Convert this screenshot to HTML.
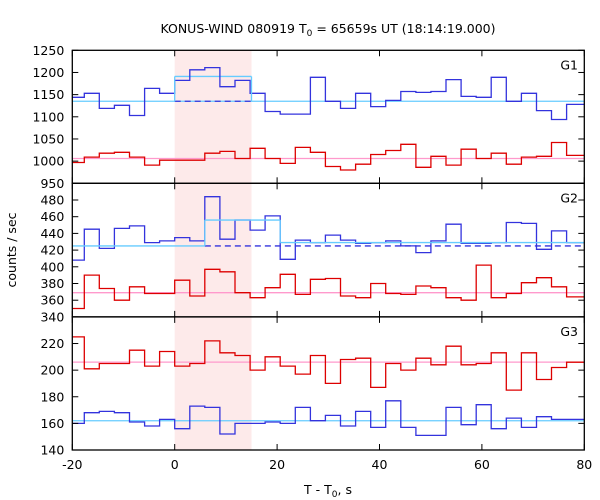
<!DOCTYPE html>
<html><head><meta charset="utf-8"><style>
body{margin:0;background:#fff;}
svg{display:block;font-family:"DejaVu Sans","Liberation Sans",sans-serif;}
</style></head><body>
<svg id="chart" width="600" height="500" xmlns="http://www.w3.org/2000/svg">
<text x="328" y="33" font-size="12.5" text-anchor="middle">KONUS-WIND 080919 T<tspan font-size="9" dy="3">0</tspan><tspan dy="-3"> = 65659s UT (18:14:19.000)</tspan></text>
<text transform="translate(16,250) rotate(-90)" font-size="12.5" text-anchor="middle">counts / sec</text>
<text x="328" y="494" font-size="12.5" text-anchor="middle">T - T<tspan font-size="9" dy="3">0</tspan><tspan dy="-3">, s</tspan></text>
</svg>
<script>
const binWidth = 2.944;
const xTicks = [-20, 0, 20, 40, 60, 80];
const g1Blue = [1144,1153,1119,1126,1103,1164,1153,1182,1206,1211,1168,1182,1153,1112,1106,1106,1189,1135,1119,1153,1123,1137,1157,1155,1157,1184,1146,1144,1189,1135,1153,1114,1094,1128];
const g1Red = [997,1009,1018,1020,1009,991,1002,1002,1002,1018,1022,1006,1029,1006,995,1031,1020,988,980,993,1015,1024,1038,986,1011,991,1027,1006,1018,993,1009,1011,1042,1013];
const g2Blue = [408,445,422,446,449,429,431,435,431,484,433,456,444,461,409,432,429,438,432,428,429,431,425,417,431,451,428,428,429,453,452,421,443,429];
const g2Red = [350,390,374,360,376,368,368,384,365,397,394,369,363,375,391,367,385,386,365,363,380,368,367,377,375,363,360,402,363,368,381,387,376,364];
const g3Red = [225,201,205,205,215,203,214,203,205,222,213,211,200,210,203,197,211,190,208,209,187,205,200,209,204,218,204,205,213,185,213,193,202,206];
const g3Blue = [160,168,169,168,161,158,163,156,173,172,152,160,160,161,160,172,162,166,158,169,157,177,157,151,151,172,159,174,156,164,157,165,163,163];
const g1BgLevel = [1135], g1PeakLevel = [1191], g1RedLevel = [1006];
const g2BgLevel = [425], g2Mid = [456], g2After = [429], g2RedLevel = [369];
const g3RedLevel = [206], g3BlueLevel = [162];
const g1Ticks = [950,1000,1050,1100,1150,1200,1250];
const g2Ticks = [340,360,380,400,420,440,460,480];
const g3Ticks = [140,160,180,200,220];
const shade = [0, 15];

const svg = document.getElementById('chart');
const NS = 'http://www.w3.org/2000/svg';
const X0 = 72.3, X1 = 584.3;
const xs = t => X0 + (t + 20) / 100 * (X1 - X0);
const panels = [
  {top:50.3, bot:183.3, min:950, max:1250, ticks:g1Ticks, name:'G1'},
  {top:183.3, bot:316.9, min:340, max:500, ticks:g2Ticks, name:'G2'},
  {top:316.9, bot:450, min:140, max:240, ticks:g3Ticks, name:'G3'}
];
panels.forEach(p => p.y = v => p.bot - (v - p.min) / (p.max - p.min) * (p.bot - p.top));

function mk(tag, attrs){const e=document.createElementNS(NS,tag);for(const k in attrs)e.setAttribute(k,attrs[k]);svg.appendChild(e);return e;}

const sh = mk('rect',{x:xs(shade[0]),y:50.3,width:xs(shade[1])-xs(shade[0]),height:450-50.3,fill:'#fdeaea'});



function stepPath(vals, p){
  let d='';
  vals.forEach((v,i)=>{
    let a=(i-7)*binWidth, b=(i-6)*binWidth;
    if(a<-20)a=-20; if(i===vals.length-1)b=80; if(b>80)b=80;
    const y=p.y(v).toFixed(1);
    d += (i===0?'M':'L')+xs(a).toFixed(1)+','+y+'L'+xs(b).toFixed(1)+','+y;
  });
  return d;
}
function series(vals,p,color,name){
  const e=mk('path',{d:stepPath(vals,p),fill:'none',stroke:color,'stroke-width':1.3});
  
  
}
function hline(v,t0,t1,p,color,name,dash){
  const e=mk('line',{x1:xs(t0),x2:xs(t1),y1:p.y(v),y2:p.y(v),stroke:color,'stroke-width':1.3});
  if(dash)e.setAttribute('stroke-dasharray','6,4');
  
  
}
const BLUE='#3333dd', RED='#dd0000', CYAN='#66ccff', PINK='#ff99cc';
const [P1,P2,P3]=panels;
hline(g1BgLevel[0],-20,80,P1,CYAN,'g1-background-fit');
hline(g1PeakLevel[0],0,15,P1,CYAN,'g1-burst-level');
hline(g1RedLevel[0],-20,80,P1,PINK,'g1-red-background');
series(g1Blue,P1,BLUE,'g1-blue-series');
series(g1Red,P1,RED,'g1-red-series');
hline(g1BgLevel[0],0,15,P1,BLUE,'g1-dashed-background',true);
[0,15].forEach(t=>{const e=mk('line',{x1:xs(t),x2:xs(t),y1:P1.y(g1BgLevel[0]),y2:P1.y(g1PeakLevel[0]),stroke:CYAN,'stroke-width':1.3});

});

hline(g2RedLevel[0],-20,80,P2,PINK,'g2-red-background');
series(g2Blue,P2,BLUE,'g2-blue-series');
series(g2Red,P2,RED,'g2-red-series');
const tA=2*binWidth, tB=7*binWidth;
hline(g2BgLevel[0],-20,tA,P2,CYAN,'g2-pre-level');
hline(g2Mid[0],tA,tB,P2,CYAN,'g2-burst-level');
hline(g2After[0],tB,80,P2,CYAN,'g2-after-level');
hline(g2BgLevel[0],tA,80,P2,BLUE,'g2-dashed-background',true);
[[tA,g2BgLevel[0],g2Mid[0]],[tB,g2After[0],g2Mid[0]]].forEach(([t,a,b])=>{const e=mk('line',{x1:xs(t),x2:xs(t),y1:P2.y(a),y2:P2.y(b),stroke:CYAN,'stroke-width':1.3});

});

hline(g3RedLevel[0],-20,80,P3,PINK,'g3-red-background');
hline(g3BlueLevel[0],-20,80,P3,CYAN,'g3-blue-background');
series(g3Red,P3,RED,'g3-red-series');
series(g3Blue,P3,BLUE,'g3-blue-series');

panels.forEach((p,pi)=>{
  const r=mk('rect',{x:X0,y:p.top,width:X1-X0,height:p.bot-p.top,fill:'none',stroke:'#000','stroke-width':1.3});
  
  
  p.ticks.forEach(v=>{
    const y=p.y(v);
    mk('line',{x1:X0,x2:X0+6,y1:y,y2:y,stroke:'#000','stroke-width':1});
    mk('line',{x1:X1-6,x2:X1,y1:y,y2:y,stroke:'#000','stroke-width':1});
    const t=mk('text',{x:X0-8,y:y+4.5,'font-size':12.5,'text-anchor':'end'});
    t.textContent=v;
    
    
  });
  xTicks.forEach(tv=>{
    const x=xs(tv);
    mk('line',{x1:x,x2:x,y1:p.top,y2:p.top+6,stroke:'#000','stroke-width':1});
    mk('line',{x1:x,x2:x,y1:p.bot-6,y2:p.bot,stroke:'#000','stroke-width':1});
  });
  const lb=mk('text',{x:578,y:p.top+19,'font-size':12.5,'text-anchor':'end'});
  lb.textContent=p.name;
  
  
});
xTicks.forEach(tv=>{
  const t=mk('text',{x:xs(tv),y:469,'font-size':12.5,'text-anchor':'middle'});
  t.textContent=tv;
  
  
});
</script>
</body></html>
